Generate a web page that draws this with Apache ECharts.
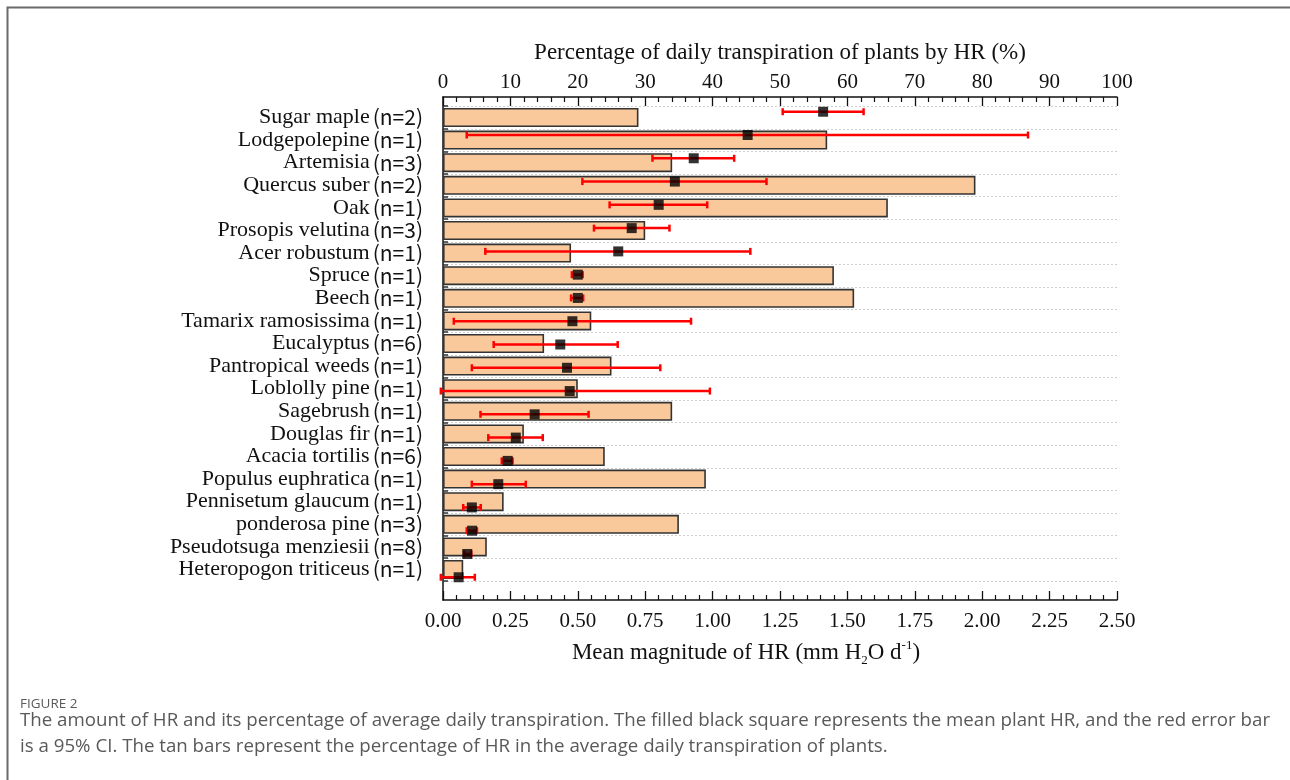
<!DOCTYPE html>
<html>
<head>
<meta charset="utf-8">
<style>
  html, body { margin: 0; padding: 0; background: #fff; }
  #chart { width: 1290px; height: 780px; }
</style>
<script src="https://cdn.jsdelivr.net/npm/echarts@6/dist/echarts.min.js"></script>
</head>
<body>
<div id="chart"></div>
<script>
// Plant groups (top to bottom) and number of studies per group
const categories = ['Sugar maple', 'Lodgepolepine', 'Artemisia', 'Quercus suber', 'Oak',
  'Prosopis velutina', 'Acer robustum', 'Spruce', 'Beech', 'Tamarix ramosissima',
  'Eucalyptus', 'Pantropical weeds', 'Loblolly pine', 'Sagebrush', 'Douglas fir',
  'Acacia tortilis', 'Populus euphratica', 'Pennisetum glaucum', 'ponderosa pine',
  'Pseudotsuga menziesii', 'Heteropogon triticeus'];
const sampleSizes = [2, 1, 3, 2, 1, 3, 1, 1, 1, 1, 6, 1, 1, 1, 1, 6, 1, 1, 3, 8, 1];

// Share of daily transpiration supplied by HR (%), tan bars, top axis
const percentHR = [29, 57, 34, 79, 66, 30, 19, 58, 61, 22, 15, 25, 20, 34, 12, 24, 39, 9, 35, 6.5, 3];

// Mean HR magnitude (mm H2O per day) with 95% CI, bottom axis
const meanHR = [1.41, 1.13, 0.93, 0.86, 0.80, 0.70, 0.65, 0.50, 0.50, 0.48, 0.435, 0.46, 0.47, 0.34, 0.27, 0.24, 0.205, 0.107, 0.108, 0.09, 0.058];
const ciLow  = [1.26, 0.088, 0.777, 0.517, 0.618, 0.56, 0.157, 0.478, 0.475, 0.04, 0.188, 0.107, -0.008, 0.139, 0.168, 0.218, 0.107, 0.075, 0.088, 0.078, -0.008];
const ciHigh = [1.56, 2.17, 1.08, 1.20, 0.98, 0.84, 1.14, 0.518, 0.52, 0.92, 0.648, 0.806, 0.99, 0.54, 0.37, 0.258, 0.307, 0.140, 0.126, 0.105, 0.118];

// Axis tick ranges
const mmAxis = { min: 0, max: 2.5, interval: 0.25 };
const pctAxis = { min: 0, max: 100, interval: 10 };

const serif = 'Liberation Serif';
const chart = echarts.init(document.getElementById('chart'));

const ciData = categories.map((c, i) => [i, ciLow[i], ciHigh[i]]);
const meanData = categories.map((c, i) => [meanHR[i], i]);

function renderCI(params, api) {
  const idx = api.value(0);
  const p0 = api.coord([api.value(1), idx]);
  const p1 = api.coord([api.value(2), idx]);
  const cap = 3.5;
  const style = { stroke: '#ff0000', lineWidth: 2.5 };
  return {
    type: 'group',
    children: [
      { type: 'line', shape: { x1: p0[0], y1: p0[1], x2: p1[0], y2: p1[1] }, style },
      { type: 'line', shape: { x1: p0[0], y1: p0[1] - cap, x2: p0[0], y2: p0[1] + cap }, style },
      { type: 'line', shape: { x1: p1[0], y1: p1[1] - cap, x2: p1[0], y2: p1[1] + cap }, style }
    ]
  };
}

const hiddenValueX = (ax, gi) => ({
  type: 'value', gridIndex: gi, min: ax.min, max: ax.max, show: false
});

const captionStyle = { fontFamily: 'Open Sans', fill: '#595959' };

chart.setOption({
  animation: false,
  backgroundColor: '#fff',
  grid: [
    // frame with both value axes
    { left: 443, right: 173, top: 97, bottom: 180 },
    // bars and category labels
    { left: 443, right: 173, top: 106.2, bottom: 199.2 },
    // mean markers and CIs
    { left: 443, right: 173, top: 100.1, bottom: 191.1 }
  ],
  xAxis: [
    {
      type: 'value', gridIndex: 0, position: 'bottom',
      min: mmAxis.min, max: mmAxis.max, interval: mmAxis.interval,
      name: '{a|Mean magnitude of HR (mm H}{sub|2}{a|O d}{sup|-1}{a|)}',
      nameLocation: 'middle', nameGap: 39,
      nameTextStyle: {
        padding: [0, 68, 0, 0],
        rich: {
          a: { fontFamily: serif, fontSize: 23, color: '#111', lineHeight: 28, verticalAlign: 'middle' },
          sub: { fontFamily: serif, fontSize: 13, color: '#111', lineHeight: 28, verticalAlign: 'bottom' },
          sup: { fontFamily: serif, fontSize: 13, color: '#111', lineHeight: 28, verticalAlign: 'top' }
        }
      },
      axisLine: { lineStyle: { color: '#111', width: 1.5 } },
      axisTick: { inside: true, length: 9, lineStyle: { color: '#111', width: 1.3 } },
      minorTick: { show: true, splitNumber: 5, length: 5, lineStyle: { color: '#111', width: 1.2 } },
      axisLabel: {
        margin: 11, fontFamily: serif, fontSize: 21, color: '#111',
        formatter: v => v.toFixed(2)
      },
      splitLine: { show: false }
    },
    {
      type: 'value', gridIndex: 0, position: 'top',
      min: pctAxis.min, max: pctAxis.max, interval: pctAxis.interval,
      name: 'Percentage of daily transpiration of plants by HR (%)',
      nameLocation: 'middle', nameGap: 33,
      nameTextStyle: { fontFamily: serif, fontSize: 23, color: '#111' },
      axisLine: { lineStyle: { color: '#111', width: 1.5 } },
      axisTick: { inside: true, length: 9, lineStyle: { color: '#111', width: 1.3 } },
      minorTick: { show: true, splitNumber: 5, length: 5, lineStyle: { color: '#111', width: 1.2 } },
      axisLabel: { margin: 4, fontFamily: serif, fontSize: 21, color: '#111' },
      splitLine: { show: false }
    },
    hiddenValueX(pctAxis, 1),
    hiddenValueX(mmAxis, 2)
  ],
  yAxis: [
    {
      type: 'value', gridIndex: 0, min: 0, max: 1,
      axisLine: { show: true, lineStyle: { color: '#111', width: 1.5 } },
      axisTick: { show: false }, axisLabel: { show: false }, splitLine: { show: false }
    },
    {
      type: 'category', gridIndex: 1, inverse: true, data: categories,
      axisLine: { show: false },
      axisTick: { show: true, inside: true, length: 5, lineStyle: { color: '#333', width: 1.5 } },
      splitLine: { show: true, lineStyle: { color: '#cfcfcf', type: [2, 2], width: 1 } },
      axisLabel: {
        margin: 20,
        formatter: (v, i) => '{n|' + v + '}{s|(n=' + sampleSizes[i] + ')}',
        rich: {
          n: { fontFamily: serif, fontSize: 22, color: '#111' },
          s: { fontFamily: 'Noto Sans CJK SC', fontSize: 21, color: '#111', padding: [0, 0, 0, 3] }
        }
      }
    },
    {
      type: 'category', gridIndex: 2, inverse: true, data: categories, show: false
    }
  ],
  series: [
    {
      type: 'bar', xAxisIndex: 2, yAxisIndex: 1,
      data: percentHR, barWidth: 19,
      itemStyle: { color: '#f9c99b', borderColor: '#333', borderWidth: 1.6 }
    },
    {
      type: 'custom', xAxisIndex: 3, yAxisIndex: 2,
      data: ciData, encode: { y: 0, x: [1, 2] },
      renderItem: renderCI, z: 3
    },
    {
      type: 'scatter', xAxisIndex: 3, yAxisIndex: 2,
      data: meanData, symbol: 'rect', symbolSize: [10, 10],
      itemStyle: { color: '#000' }, z: 4
    }
  ],
  graphic: [
    {
      type: 'rect', silent: true,
      shape: { x: 7.5, y: 7.5, width: 1400, height: 900 },
      style: { fill: 'none', stroke: '#6b6b6b', lineWidth: 2 }
    },
    {
      type: 'text', left: 20, top: 697,
      style: { ...captionStyle, text: 'FIGURE 2', fontSize: 13.5, fill: '#5a5a5a' }
    },
    {
      type: 'text', left: 20, top: 708,
      style: {
        ...captionStyle, fontSize: 18.7, lineHeight: 26,
        text: 'The amount of HR and its percentage of average daily transpiration. The filled black square represents the mean plant HR, and the red error bar\nis a 95% CI. The tan bars represent the percentage of HR in the average daily transpiration of plants.'
      }
    }
  ]
});
</script>
</body>
</html>
